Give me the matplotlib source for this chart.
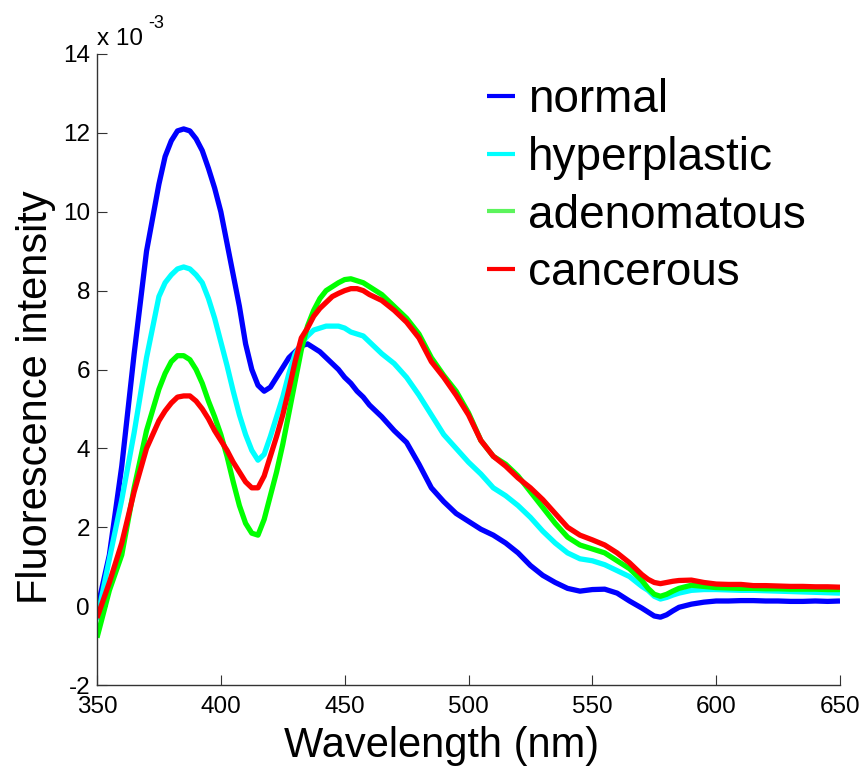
import matplotlib
matplotlib.use("Agg")
import matplotlib.pyplot as plt

plt.rcParams['font.family'] = ['Liberation Sans', 'DejaVu Sans']

# Wavelength grid (nm): finer where the curves bend sharply
wavelength = [350, 355, 360, 365, 370,
              375, 377.5, 380, 382.5, 385, 387.5, 390, 392.5, 395, 397.5,
              400, 402.5, 405, 407.5, 410, 412.5, 415, 417.5, 420, 422.5,
              425, 427.5, 430, 432.5, 435, 437.5, 440, 442.5, 445, 447.5,
              450, 452.5, 455, 457.5, 460,
              465, 470, 475, 480, 485, 490, 495, 500, 505, 510,
              515, 520, 525, 530, 535, 540, 545, 550, 555, 560, 565,
              570, 572.5, 575, 577.5, 580, 582.5, 585,
              590, 595, 600, 605, 610, 615, 620, 625, 630, 635, 640, 645, 650]

# Fluorescence intensity values (x 10^-3)
normal = [-0.1, 1.3, 3.55, 6.4, 9.0,
          10.7, 11.4, 11.8, 12.05, 12.1, 12.05, 11.85, 11.55, 11.1, 10.6,
          10.0, 9.2, 8.4, 7.6, 6.65, 6.0, 5.6, 5.45, 5.55, 5.8,
          6.05, 6.3, 6.45, 6.6, 6.65, 6.55, 6.45, 6.3, 6.15, 6.0,
          5.8, 5.65, 5.45, 5.3, 5.1,
          4.8, 4.45, 4.15, 3.6, 3.0, 2.65, 2.35, 2.15, 1.95, 1.8,
          1.6, 1.35, 1.03, 0.78, 0.6, 0.45, 0.38, 0.42, 0.43, 0.33, 0.13,
          -0.05, -0.15, -0.25, -0.28, -0.22, -0.12, -0.03,
          0.05, 0.1, 0.13, 0.13, 0.14, 0.14, 0.13, 0.13, 0.12, 0.12, 0.13, 0.12, 0.13]
hyperplastic = [-0.35, 1.2, 2.7, 4.4, 6.3,
                7.85, 8.2, 8.4, 8.55, 8.6, 8.55, 8.4, 8.2, 7.8, 7.3,
                6.7, 6.1, 5.45, 4.85, 4.35, 3.95, 3.7, 3.85, 4.3, 4.8,
                5.3, 5.9, 6.4, 6.65, 6.85, 7.0, 7.05, 7.1, 7.1, 7.1,
                7.05, 6.95, 6.9, 6.85, 6.7,
                6.4, 6.15, 5.8, 5.35, 4.85, 4.35, 4.0, 3.65, 3.35, 3.0,
                2.8, 2.55, 2.25, 1.9, 1.6, 1.35, 1.2, 1.15, 1.05, 0.9, 0.75,
                0.5, 0.4, 0.25, 0.18, 0.22, 0.28, 0.33,
                0.4, 0.42, 0.42, 0.41, 0.4, 0.4, 0.39, 0.38, 0.37, 0.36, 0.35, 0.34, 0.33]
adenomatous = [-0.8, 0.4, 1.3, 3.0, 4.45,
               5.5, 5.9, 6.2, 6.35, 6.35, 6.25, 6.0, 5.65, 5.2, 4.8,
               4.35, 3.8, 3.15, 2.55, 2.1, 1.85, 1.8, 2.2, 2.8, 3.4,
               4.1, 4.9, 5.7, 6.5, 7.1, 7.5, 7.8, 8.0, 8.1, 8.2,
               8.28, 8.3, 8.25, 8.2, 8.1,
               7.9, 7.6, 7.3, 6.9, 6.3, 5.85, 5.45, 4.9, 4.2, 3.8,
               3.6, 3.3, 2.9, 2.5, 2.1, 1.75, 1.55, 1.45, 1.35, 1.15, 0.95,
               0.65, 0.45, 0.3, 0.25, 0.3, 0.38, 0.45,
               0.53, 0.5, 0.47, 0.46, 0.45, 0.45, 0.44, 0.44, 0.43, 0.43, 0.43, 0.42, 0.42]
cancerous = [-0.3, 0.6, 1.6, 2.9, 4.0,
             4.7, 4.95, 5.15, 5.3, 5.33, 5.33, 5.2, 5.0, 4.75, 4.45,
             4.2, 3.95, 3.65, 3.4, 3.15, 3.0, 3.0, 3.3, 3.8, 4.3,
             4.85, 5.5, 6.2, 6.8, 7.05, 7.35, 7.55, 7.7, 7.85, 7.93,
             8.0, 8.05, 8.05, 8.0, 7.9,
             7.75, 7.5, 7.2, 6.8, 6.2, 5.8, 5.35, 4.85, 4.2, 3.8,
             3.55, 3.25, 3.0, 2.7, 2.35, 2.0, 1.8, 1.68, 1.55, 1.35, 1.1,
             0.8, 0.68, 0.6, 0.57, 0.6, 0.63, 0.65,
             0.66, 0.6, 0.56, 0.55, 0.55, 0.52, 0.52, 0.51, 0.5, 0.5, 0.49, 0.49, 0.48]

labels = ['normal', 'hyperplastic', 'adenomatous', 'cancerous']
colors = ['#0000ff', '#00ffff', '#00ff00', '#ff0000']
legend_colors = ['#0000ff', '#00ffff', '#5cf45c', '#ff0000']
series = [normal, hyperplastic, adenomatous, cancerous]

x_ticks = [350, 400, 450, 500, 550, 600, 650]
y_ticks = [-2, 0, 2, 4, 6, 8, 10, 12, 14]

W, H = 866, 766
fig = plt.figure(figsize=(W / 100, H / 100), dpi=100)
ax = fig.add_axes([97 / W, 1 - 685 / H, (840 - 97) / W, (685 - 54) / H])

for vals, c, lab in zip(series, colors, labels):
    ax.plot(wavelength, vals, color=c, lw=3.8, label=lab,
            solid_joinstyle='round', solid_capstyle='butt')

ax.set_xlim(350, 650)
ax.set_ylim(-2, 14)
ax.set_xticks(x_ticks)
ax.set_yticks(y_ticks)
ax.set_xticklabels([str(v) for v in x_ticks])
ax.set_yticklabels([str(v) for v in y_ticks])

for s in ['top', 'right']:
    ax.spines[s].set_visible(False)
for s in ['left', 'bottom']:
    ax.spines[s].set_linewidth(1.0)
    ax.spines[s].set_color('#333333')

ax.tick_params(axis='both', direction='in', length=7, width=0.8,
               color='#333333', labelsize=17.5, labelcolor='black')
ax.tick_params(axis='x', pad=8)
ax.tick_params(axis='y', pad=5)

# axis labels
fig.text(442 / W, 1 - 757 / H, 'Wavelength (nm)', fontsize=30,
         ha='center', va='baseline')
fig.text(47 / W, 1 - 397 / H, 'Fluorescence intensity', fontsize=30,
         rotation=90, rotation_mode='anchor', ha='center', va='baseline')

# exponent text
fig.text(97 / W, 1 - 45 / H, 'x 10', fontsize=17.5, ha='left', va='baseline')
fig.text(148 / W, 1 - 28 / H, '-3', fontsize=13, ha='left', va='baseline')

leg = ax.legend(loc='upper left', bbox_to_anchor=(487 / W, 1 - 78 / H),
                bbox_transform=fig.transFigure, frameon=False,
                fontsize=33, handlelength=0.6, handletextpad=0.3,
                labelspacing=0.3, borderpad=0, borderaxespad=0)
for ln, c in zip(leg.get_lines(), legend_colors):
    ln.set_color(c)
    ln.set_linewidth(3)

fig.savefig('out.png', dpi=100)
